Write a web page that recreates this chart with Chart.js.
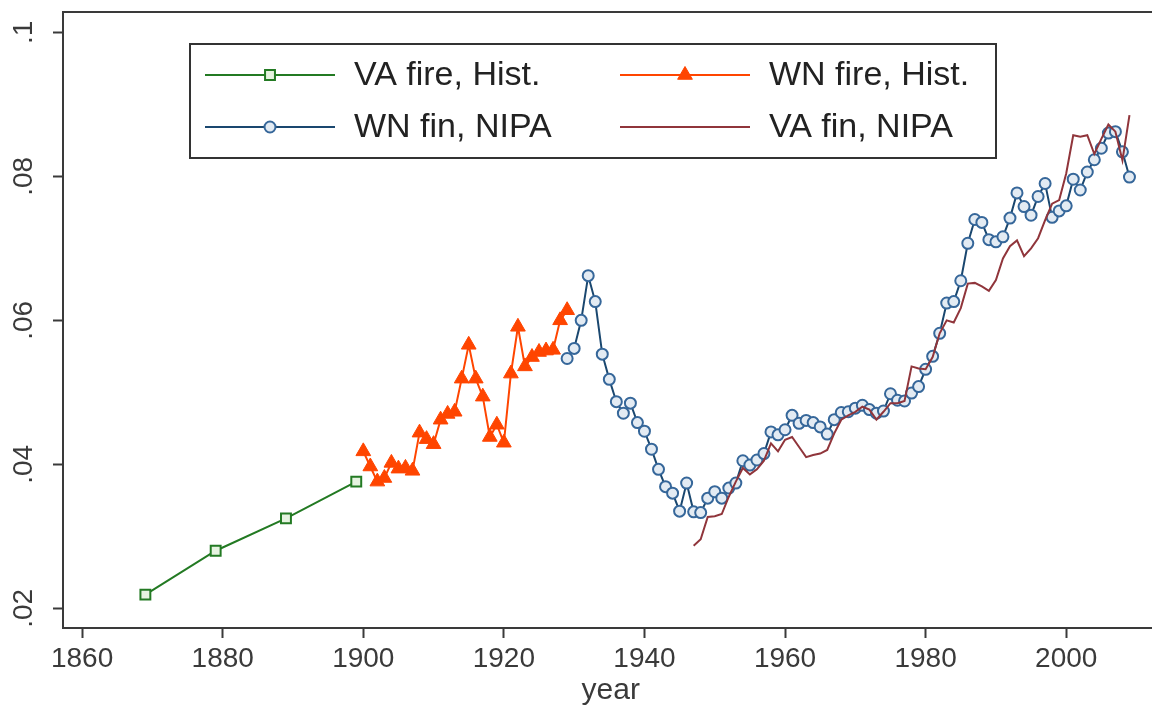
<!DOCTYPE html>
<html>
<head>
<meta charset="utf-8">
<title>VA / WN</title>
<script src="https://cdn.jsdelivr.net/npm/chart.js@4.4.0/dist/chart.umd.min.js"></script>
<style>
  html, body { margin: 0; padding: 0; background: #fff; overflow: hidden; }
  #marco { width: 1152px; height: 706px; overflow: hidden; }
  #grafico { display: block; }
</style>
</head>
<body>
<div id="marco"><canvas id="grafico" width="1168" height="706"></canvas></div>
<script>
// valores
const vaFireYears = [1869, 1879, 1889, 1899];
const vaFire = [0.0219, 0.0280, 0.0325, 0.0376];

const wnFireYears = [1900, 1901, 1902, 1903, 1904, 1905, 1906, 1907, 1908, 1909,
  1910, 1911, 1912, 1913, 1914, 1915, 1916, 1917, 1918, 1919,
  1920, 1921, 1922, 1923, 1924, 1925, 1926, 1927, 1928, 1929];
const wnFire = [0.0418, 0.0397, 0.0376, 0.0381, 0.0402, 0.0394, 0.0395, 0.0391, 0.0444, 0.0435,
  0.0428, 0.0462, 0.0470, 0.0473, 0.0519, 0.0566, 0.0519, 0.0494, 0.0438, 0.0455,
  0.0430, 0.0526, 0.0591, 0.0536, 0.0549, 0.0556, 0.0558, 0.0559, 0.0600, 0.0614];

const wnFinYears = [1929, 1930, 1931, 1932, 1933, 1934, 1935, 1936, 1937, 1938, 1939,
  1940, 1941, 1942, 1943, 1944, 1945, 1946, 1947, 1948, 1949,
  1950, 1951, 1952, 1953, 1954, 1955, 1956, 1957, 1958, 1959,
  1960, 1961, 1962, 1963, 1964, 1965, 1966, 1967, 1968, 1969,
  1970, 1971, 1972, 1973, 1974, 1975, 1976, 1977, 1978, 1979,
  1980, 1981, 1982, 1983, 1984, 1985, 1986, 1987, 1988, 1989,
  1990, 1991, 1992, 1993, 1994, 1995, 1996, 1997, 1998, 1999,
  2000, 2001, 2002, 2003, 2004, 2005, 2006, 2007, 2008, 2009];
const wnFin = [0.0547, 0.0561, 0.0600, 0.0662, 0.0626, 0.0553, 0.0518, 0.0487, 0.0471, 0.0485, 0.0458,
  0.0446, 0.0421, 0.0393, 0.0369, 0.0360, 0.0335, 0.0374, 0.0334, 0.0333, 0.0353,
  0.0362, 0.0353, 0.0367, 0.0374, 0.0405, 0.0399, 0.0406, 0.0415, 0.0445, 0.0441,
  0.0448, 0.0468, 0.0457, 0.0461, 0.0458, 0.0452, 0.0442, 0.0462, 0.0472, 0.0473,
  0.0478, 0.0482, 0.0476, 0.0471, 0.0474, 0.0498, 0.0489, 0.0488, 0.0499, 0.0508,
  0.0532, 0.0550, 0.0582, 0.0624, 0.0626, 0.0655, 0.0707, 0.0740, 0.0736, 0.0712,
  0.0709, 0.0716, 0.0742, 0.0777, 0.0758, 0.0746, 0.0772, 0.0790, 0.0743, 0.0752,
  0.0759, 0.0796, 0.0781, 0.0806, 0.0823, 0.0839, 0.0860, 0.0862, 0.0834, 0.0799];

const vaFinYears = [1947, 1948, 1949,
  1950, 1951, 1952, 1953, 1954, 1955, 1956, 1957, 1958, 1959,
  1960, 1961, 1962, 1963, 1964, 1965, 1966, 1967, 1968, 1969,
  1970, 1971, 1972, 1973, 1974, 1975, 1976, 1977, 1978, 1979,
  1980, 1981, 1982, 1983, 1984, 1985, 1986, 1987, 1988, 1989,
  1990, 1991, 1992, 1993, 1994, 1995, 1996, 1997, 1998, 1999,
  2000, 2001, 2002, 2003, 2004, 2005, 2006, 2007, 2008, 2009];
const vaFin = [0.0287, 0.0296, 0.0327,
  0.0328, 0.0331, 0.0355, 0.0376, 0.0395, 0.0386, 0.0393, 0.0405, 0.0429, 0.0418,
  0.0434, 0.0438, 0.0424, 0.0410, 0.0413, 0.0415, 0.0420, 0.0443, 0.0462, 0.0468,
  0.0473, 0.0480, 0.0476, 0.0462, 0.0473, 0.0485, 0.0485, 0.0488, 0.0536, 0.0533,
  0.0532, 0.0549, 0.0582, 0.0600, 0.0597, 0.0617, 0.0651, 0.0652, 0.0647, 0.0641,
  0.0656, 0.0686, 0.0703, 0.0711, 0.0689, 0.0700, 0.0714, 0.0739, 0.0762, 0.0767,
  0.0804, 0.0857, 0.0855, 0.0857, 0.0831, 0.0852, 0.0872, 0.0862, 0.0822, 0.0885];

const xTickValues = [1860, 1880, 1900, 1920, 1940, 1960, 1980, 2000];
const yTickValues = [0.02, 0.04, 0.06, 0.08, 0.1];
const yTickLabels = ['.02', '.04', '.06', '.08', '.1'];

const FONT = "'Liberation Sans', Arial, sans-serif";
const AXIS = '#3a3a3a';

const puntos = (xs, ys) => xs.map((x, i) => ({ x: x, y: ys[i] }));

// sin relleno extra por etiquetas: el area del grafico queda fija
const sinRelleno = s => { s.paddingLeft = 0; s.paddingRight = 0; s.paddingTop = 0; s.paddingBottom = 0; };

// leyenda dentro del area del grafico, dos columnas
const legendBox = {
  id: 'legendBox',
  afterDraw(chart) {
    const ctx = chart.ctx;
    const box = { left: 190, top: 44, right: 996, bottom: 158 };
    const rows = [75, 127];
    const cols = [205, 620];
    ctx.save();
    ctx.fillStyle = '#fff';
    ctx.fillRect(box.left, box.top, box.right - box.left, box.bottom - box.top);
    ctx.strokeStyle = '#333';
    ctx.lineWidth = 2;
    ctx.strokeRect(box.left, box.top, box.right - box.left, box.bottom - box.top);
    ctx.font = '34px ' + FONT;
    ctx.textBaseline = 'middle';
    chart.data.datasets.forEach((ds, k) => {
      const x0 = cols[k % 2];
      const y = rows[Math.floor(k / 2)];
      ctx.strokeStyle = ds.borderColor;
      ctx.lineWidth = ds.borderWidth;
      ctx.beginPath();
      ctx.moveTo(x0, y);
      ctx.lineTo(x0 + 130, y);
      ctx.stroke();
      if (ds.pointRadius > 0) {
        ctx.fillStyle = ds.pointBackgroundColor;
        ctx.strokeStyle = ds.pointBorderColor;
        ctx.lineWidth = ds.pointBorderWidth;
        Chart.helpers.drawPoint(ctx, { pointStyle: ds.pointStyle, radius: ds.pointRadius, rotation: 0, borderWidth: ds.pointBorderWidth }, x0 + 65, y);
      }
      ctx.fillStyle = '#222';
      ctx.textAlign = 'left';
      ctx.fillText(ds.label, x0 + 149, y + 1);
    });
    ctx.restore();
  }
};

const datasets = [
  {
    label: 'VA fire, Hist.',
    data: puntos(vaFireYears, vaFire),
    borderColor: '#237a23', borderWidth: 2,
    pointStyle: 'rect', pointRadius: 7, pointBorderWidth: 2,
    pointBorderColor: '#237a23', pointBackgroundColor: '#e6f3e0',
    order: 3
  },
  {
    label: 'WN fire, Hist.',
    data: puntos(wnFireYears, wnFire),
    borderColor: '#ff4500', borderWidth: 2,
    pointStyle: 'triangle', pointRadius: 8.5, pointBorderWidth: 1,
    pointBorderColor: '#ff4500', pointBackgroundColor: '#ff4500',
    order: 2
  },
  {
    label: 'WN fin, NIPA',
    data: puntos(wnFinYears, wnFin),
    borderColor: '#1a476f', borderWidth: 2,
    pointStyle: 'circle', pointRadius: 5.5, pointBorderWidth: 2,
    pointBorderColor: '#36679a', pointBackgroundColor: '#e3ebf3',
    order: 1
  },
  {
    label: 'VA fin, NIPA',
    data: puntos(vaFinYears, vaFin),
    borderColor: '#90353b', borderWidth: 2,
    pointRadius: 0,
    order: 0
  }
];

const xMin = 1857.28, xMax = 2013.13;
const yMin = 0.01727, yMax = 0.10282;

new Chart(document.getElementById('grafico'), {
  type: 'line',
  data: { datasets: datasets },
  plugins: [legendBox],
  options: {
    responsive: false,
    animation: false,
    layout: { padding: 0 },
    elements: { line: { tension: 0, fill: false } },
    plugins: { legend: { display: false }, tooltip: { enabled: false } },
    scales: {
      x: {
        type: 'linear', position: 'bottom', min: xMin, max: xMax, bounds: 'data',
        afterBuildTicks: s => { s.ticks = xTickValues.map(v => ({ value: v })); },
        afterFit: s => { s.height = 78; sinRelleno(s); },
        ticks: { font: { family: FONT, size: 28 }, color: AXIS, padding: 4, maxRotation: 0, autoSkip: false,
          callback: v => String(v) },
        grid: { display: true, drawOnChartArea: false, drawTicks: true, tickLength: 10, tickWidth: 2, tickColor: AXIS },
        border: { display: true, color: AXIS, width: 2 },
        title: { display: true, text: 'year', font: { family: FONT, size: 30 }, color: AXIS, padding: { top: 0, bottom: -3 } }
      },
      xTop: {
        type: 'linear', axis: 'x', position: 'top', min: xMin, max: xMax,
        afterFit: s => { s.height = 12; sinRelleno(s); },
        ticks: { display: false },
        grid: { display: false },
        border: { display: true, color: AXIS, width: 2 }
      },
      y: {
        type: 'linear', position: 'left', min: yMin, max: yMax, bounds: 'data',
        afterBuildTicks: s => { s.ticks = yTickValues.map(v => ({ value: v })); },
        afterFit: s => { s.width = 63; sinRelleno(s); },
        ticks: { font: { family: FONT, size: 28 }, color: AXIS, padding: 9, minRotation: 90, maxRotation: 90,
          crossAlign: 'center', callback: (v, i) => yTickLabels[i] },
        grid: { display: true, drawOnChartArea: false, drawTicks: true, tickLength: 10, tickWidth: 2, tickColor: AXIS },
        border: { display: true, color: AXIS, width: 2 }
      }
    }
  }
});
</script>
</body>
</html>
